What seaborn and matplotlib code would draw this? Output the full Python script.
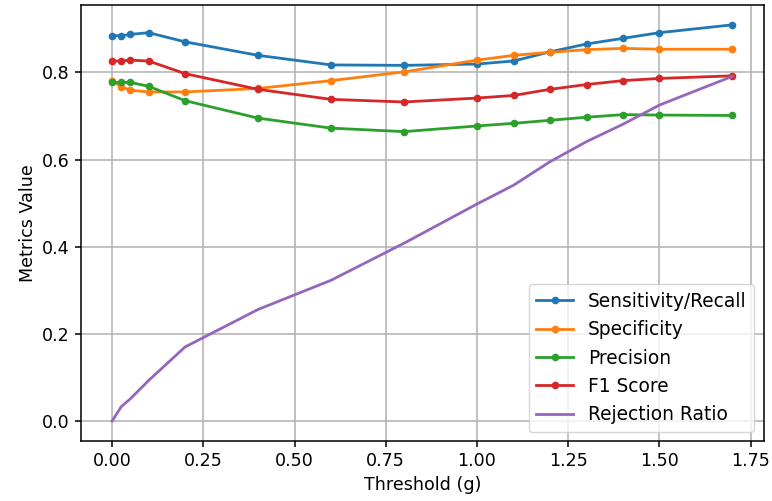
import matplotlib
matplotlib.use("Agg")
import matplotlib.pyplot as plt
import seaborn as sns
import numpy as np
import pandas as pd

thresholds = [0.0, 0.025, 0.05, 0.1, 0.2, 0.4, 0.6, 0.8, 1.0, 1.1, 1.2, 1.3, 1.4, 1.5, 1.7]
sensitivity = [0.884, 0.884, 0.887, 0.891, 0.870, 0.839, 0.817, 0.816, 0.819, 0.826, 0.847, 0.865, 0.878, 0.891, 0.909]
specificity = [0.781, 0.767, 0.759, 0.755, 0.755, 0.763, 0.781, 0.801, 0.828, 0.839, 0.846, 0.852, 0.855, 0.853, 0.853]
precision = [0.777, 0.777, 0.777, 0.768, 0.735, 0.695, 0.672, 0.664, 0.677, 0.683, 0.690, 0.697, 0.703, 0.702, 0.701]
f1_score = [0.826, 0.826, 0.828, 0.826, 0.797, 0.761, 0.738, 0.732, 0.741, 0.747, 0.761, 0.772, 0.781, 0.786, 0.792]
rejection_ratio = [0.0, 0.033, 0.051, 0.093, 0.170, 0.256, 0.323, 0.408, 0.498, 0.541, 0.595, 0.641, 0.681, 0.725, 0.791]

series = [
    ("Sensitivity/Recall", sensitivity, "#1f77b4", "o"),
    ("Specificity", specificity, "#ff7f0e", "o"),
    ("Precision", precision, "#2ca02c", "o"),
    ("F1 Score", f1_score, "#d62728", "o"),
    ("Rejection Ratio", rejection_ratio, "#9467bd", None),
]

plt.rcParams["font.family"] = ["DejaVu Sans"]
fig, ax = plt.subplots(figsize=(7.72, 5.01), dpi=100)
fig.subplots_adjust(left=0.105, right=0.989, top=0.99, bottom=0.12)

for name, vals, color, marker in series:
    df = pd.DataFrame({"x": thresholds, "y": vals})
    kw = dict(marker=marker, markersize=5.5, markeredgewidth=0) if marker else {}
    sns.lineplot(data=df, x="x", y="y", ax=ax, color=color, label=name,
                 linewidth=2, **kw)

ax.grid(True, color="#b0b0b0", linewidth=1.1)
ax.set_axisbelow(True)
ax.set_xlabel("Threshold (g)", fontsize=12.6)
ax.set_ylabel("Metrics Value", fontsize=12.6)
ax.tick_params(labelsize=12.6, length=4.5, width=1.1)
for s in ax.spines.values():
    s.set_linewidth(1.1)
ax.legend(loc="lower right", fontsize=13.4)
fig.savefig("out.png", dpi=100)
